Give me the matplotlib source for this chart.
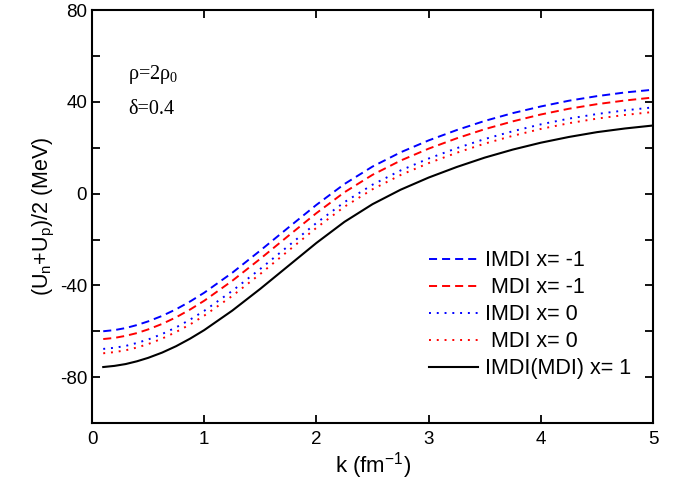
import numpy as np
import matplotlib
matplotlib.use("Agg")
import matplotlib.pyplot as plt
from matplotlib.ticker import MultipleLocator

plt.rcParams['font.family'] = ['Liberation Sans', 'DejaVu Sans']
plt.rcParams['lines.scale_dashes'] = False
plt.rcParams['axes.unicode_minus'] = False
plt.rcParams['mathtext.fontset'] = 'custom'
plt.rcParams['mathtext.rm'] = 'Liberation Serif'
plt.rcParams['mathtext.sf'] = 'Liberation Sans'

# momentum k (fm^-1)
k = [0.1, 0.2, 0.3, 0.4, 0.5, 0.625, 0.75, 0.875, 1.0, 1.25, 1.5, 1.75, 2.0,
     2.25, 2.5, 2.75, 3.0, 3.25, 3.5, 3.75, 4.0, 4.25, 4.5, 4.75, 5.0]

# (Un+Up)/2 in MeV
imdi_m1 = [-60.0, -59.5, -58.6, -57.3, -55.7, -53.3, -50.4, -47.0, -43.2, -34.5,
           -24.8, -14.8, -4.9, 4.2, 11.8, 18.0, 23.2, 27.7, 31.7, 35.1, 38.0,
           40.5, 42.5, 44.1, 45.3]
mdi_m1 = [-63.4, -62.9, -62.0, -60.8, -59.2, -56.8, -53.9, -50.5, -46.7, -38.0,
          -28.4, -18.4, -8.5, 0.6, 8.2, 14.4, 19.6, 24.1, 28.1, 31.5, 34.5,
          37.0, 39.0, 40.6, 41.9]
imdi_0 = [-67.7, -67.2, -66.4, -65.1, -63.6, -61.2, -58.3, -54.9, -51.1, -42.4,
          -32.8, -22.8, -12.8, -3.7, 3.9, 10.1, 15.3, 19.8, 23.8, 27.2, 30.2,
          32.7, 34.7, 36.3, 37.6]
mdi_0 = [-69.6, -69.1, -68.3, -67.1, -65.6, -63.2, -60.3, -57.0, -53.2, -44.6,
         -35.0, -24.9, -14.9, -5.7, 1.9, 8.1, 13.3, 17.8, 21.8, 25.2, 28.2,
         30.7, 32.7, 34.3, 35.6]
both_1 = [-75.6, -75.1, -74.3, -73.1, -71.6, -69.3, -66.5, -63.2, -59.5, -51.0,
          -41.5, -31.5, -21.5, -12.3, -4.6, 1.7, 7.0, 11.6, 15.7, 19.2, 22.2,
          24.7, 26.8, 28.4, 29.7]

fig = plt.figure(figsize=(6.95, 4.82), dpi=100)
ax = fig.add_axes([0.1324, 0.1224, 0.8072, 0.8566])

ax.plot(k, imdi_m1, color='blue', lw=1.4, dashes=(5.8, 3.6), label='IMDI x= -1')
ax.plot(k, mdi_m1, color='red', lw=1.4, dashes=(5.8, 3.6), label=' MDI x= -1')
ax.plot(k, imdi_0, color='blue', lw=1.4, dashes=(1.4, 4.2), label='IMDI x= 0')
ax.plot(k, mdi_0, color='red', lw=1.4, dashes=(1.4, 4.2), label=' MDI x= 0')
ax.plot(k, both_1, color='black', lw=1.5, label='IMDI(MDI) x= 1')

ax.set_xlim(0, 5)
ax.set_ylim(-100, 80)
ax.xaxis.set_major_locator(MultipleLocator(1))
ax.yaxis.set_major_locator(MultipleLocator(40))
ax.yaxis.set_minor_locator(MultipleLocator(20))
ax.tick_params(which='both', direction='in', top=True, right=True,
               width=1.3, length=6, labelsize=13.5)
ax.tick_params(axis='x', pad=6)
for s in ax.spines.values():
    s.set_linewidth(1.5)

ax.set_xlabel(r'k (fm$^{\mathsf{-1}}$)', fontsize=16, labelpad=1)
ax.set_ylabel(r'(U$_{\mathsf{n}}$+U$_{\mathsf{p}}$)/2 (MeV)', fontsize=15.5, labelpad=2)

serif = ['Liberation Serif', 'DejaVu Serif']
ax.text(0.32, 52, r'ρ=2ρ$_{\mathrm{0}}$', fontsize=14.5, va='center', family=serif)
ax.text(0.32, 36.5, 'δ=0.4', fontsize=14.5, va='center', family=serif)

ax.legend(loc='lower left', bbox_to_anchor=(0.585, 0.085), frameon=False,
          fontsize=15.5, handlelength=2.3, handletextpad=0.3, labelspacing=0.28,
          borderaxespad=0)

fig.savefig('out.png', dpi=100)
